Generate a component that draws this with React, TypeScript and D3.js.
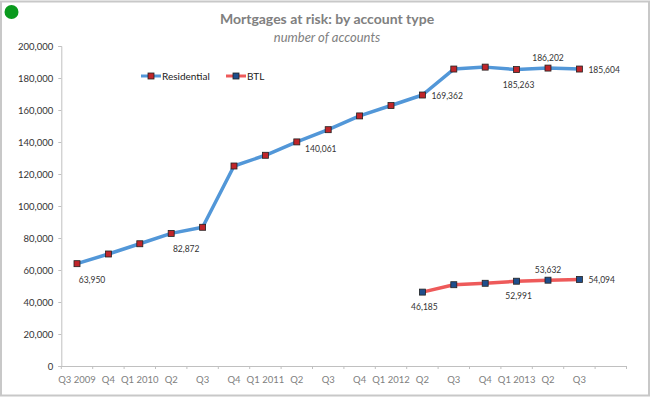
import { useRef, useEffect } from 'react'
import * as d3 from 'd3'

// Quarter labels (last slot is an empty category, as in the original axis)
const quarterLabels = [
  'Q3 2009', 'Q4', 'Q1 2010', 'Q2', 'Q3', 'Q4', 'Q1 2011', 'Q2', 'Q3',
  'Q4', 'Q1 2012', 'Q2', 'Q3', 'Q4', 'Q1 2013', 'Q2', 'Q3', '',
]

const residential: (number | null)[] = [
  63950, 70000, 76400, 82872, 86700, 125000, 131700, 140061, 147700,
  156300, 162800, 169362, 185600, 186800, 185263, 186202, 185604,
]

const btl: (number | null)[] = [
  null, null, null, null, null, null, null, null, null, null, null,
  46185, 50800, 51700, 52991, 53632, 54094,
]

// Which points carry a data label, and where
const residentialLabels: [number, string][] = [
  [0, 'belowRight'], [3, 'belowRight'], [7, 'belowFar'], [11, 'right'],
  [14, 'below'], [15, 'above'], [16, 'right'],
]
const btlLabels: [number, string][] = [
  [11, 'below'], [14, 'below'], [15, 'above'], [16, 'right'],
]

const yTicks = [0, 20000, 40000, 60000, 80000, 100000, 120000, 140000, 160000, 180000, 200000]

const FONT = 'Lato, "Open Sans", sans-serif'
const BLUE = '#5297d8'
const RED = '#ee5a5a'

function App() {
  const svgRef = useRef<SVGSVGElement | null>(null)

  useEffect(() => {
    document.body.style.margin = '0'
    if (!svgRef.current) return
    const svg = d3.select(svgRef.current)
    svg.selectAll('*').remove()

    const width = 650
    const height = 398

    svg.attr('width', width).attr('height', height)

    // Page background and frame
    svg.append('rect')
      .attr('width', width).attr('height', height).attr('fill', '#ffffff')
    svg.append('rect')
      .attr('x', 1).attr('y', 1.5)
      .attr('width', width - 2).attr('height', height - 4)
      .attr('fill', 'none').attr('stroke', '#c8c8c8').attr('stroke-width', 2)

    // green dot
    svg.append('circle')
      .attr('cx', 11.5).attr('cy', 12).attr('r', 7)
      .attr('fill', '#0a9a1e')

    // Titles
    svg.append('text')
      .attr('x', 327).attr('y', 24)
      .attr('text-anchor', 'middle')
      .attr('font-family', FONT).attr('font-weight', 'bold')
      .attr('font-size', '14px').attr('fill', '#808080')
      .text('Mortgages at risk: by account type')
    svg.append('text')
      .attr('x', 327).attr('y', 42)
      .attr('text-anchor', 'middle')
      .attr('font-family', FONT).attr('font-style', 'italic')
      .attr('font-size', '13px').attr('fill', '#808080')
      .text('number of accounts')

    const x = d3.scaleBand<number>()
      .domain(d3.range(quarterLabels.length))
      .range([61.3, 626.5])
      .padding(0)

    const y = d3.scaleLinear()
      .domain([0, 200000])
      .range([366, 46])

    const cx = (i: number) => (x(i) ?? 0) + x.bandwidth() / 2

    // Y axis
    const yAxis = d3.axisLeft(y)
      .tickValues(yTicks)
      .tickSize(3)
      .tickPadding(5)
      .tickFormat(d => d3.format(',')(d as number))

    const yg = svg.append('g')
      .attr('transform', 'translate(61.3,0)')
      .call(yAxis)
    yg.select('.domain').attr('stroke', '#c0c0c0')
    yg.selectAll('line').attr('stroke', '#c0c0c0')
    yg.selectAll('text')
      .attr('font-family', FONT).attr('font-size', '9.5px')
      .attr('fill', '#333333')

    // X axis: labels at band centres, ticks at band edges
    const xAxis = d3.axisBottom(x)
      .tickSize(0)
      .tickPadding(10)
      .tickFormat(i => quarterLabels[i as number])

    const xg = svg.append('g')
      .attr('transform', 'translate(0,366)')
      .call(xAxis)
    xg.select('.domain').attr('stroke', '#c0c0c0')
    xg.selectAll('text')
      .attr('font-family', FONT).attr('font-size', '9.5px')
      .attr('fill', '#808080')

    const edges = d3.range(quarterLabels.length + 1)
      .map(i => i < quarterLabels.length ? (x(i) ?? 0) : x.range()[1])
    xg.selectAll('line.edge')
      .data(edges)
      .join('line')
      .attr('class', 'edge')
      .attr('x1', d => d).attr('x2', d => d)
      .attr('y1', 0).attr('y2', 3)
      .attr('stroke', '#c0c0c0')

    // Series
    const series = [
      { values: residential, line: BLUE, marker: '#c0252a', labels: residentialLabels },
      { values: btl, line: RED, marker: '#1f4e8c', labels: btlLabels },
    ]

    const line = d3.line<number | null>()
      .defined(d => d != null)
      .x((_, i) => cx(i))
      .y(d => y(d as number))

    const offsets: Record<string, [number, number, string]> = {
      belowRight: [15, 19, 'middle'],
      belowFar: [24, 10, 'middle'],
      below: [2, 18, 'middle'],
      above: [0, -7, 'middle'],
      right: [9, 4, 'start'],
    }

    series.forEach(s => {
      svg.append('path')
        .datum(s.values)
        .attr('d', line)
        .attr('fill', 'none')
        .attr('stroke', s.line)
        .attr('stroke-width', 3.5)
        .attr('stroke-linejoin', 'round')

      const pts = s.values
        .map((v, i) => ({ v, i }))
        .filter(d => d.v != null)

      svg.append('g')
        .selectAll('rect')
        .data(pts)
        .join('rect')
        .attr('x', d => cx(d.i) - 3)
        .attr('y', d => y(d.v as number) - 3)
        .attr('width', 6).attr('height', 6)
        .attr('fill', s.marker)
        .attr('stroke', '#222222')
        .attr('stroke-width', 0.8)

      svg.append('g')
        .selectAll('text')
        .data(s.labels)
        .join('text')
        .attr('x', d => cx(d[0]) + offsets[d[1]][0])
        .attr('y', d => y(s.values[d[0]] as number) + offsets[d[1]][1])
        .attr('text-anchor', d => offsets[d[1]][2])
        .attr('font-family', FONT).attr('font-size', '8.5px')
        .attr('fill', '#333333')
        .text(d => d3.format(',')(s.values[d[0]] as number))
    })

    // Legend
    const legendItems = [
      { label: 'Residential', line: BLUE, marker: '#c0252a', x: 141 },
      { label: 'BTL', line: RED, marker: '#1f4e8c', x: 226 },
    ]
    legendItems.forEach(item => {
      const lg = svg.append('g').attr('transform', `translate(${item.x},76)`)
      lg.append('line')
        .attr('x1', 0).attr('x2', 20).attr('y1', 0).attr('y2', 0)
        .attr('stroke', item.line).attr('stroke-width', 3)
      lg.append('rect')
        .attr('x', 7).attr('y', -3).attr('width', 6).attr('height', 6)
        .attr('fill', item.marker).attr('stroke', '#222222').attr('stroke-width', 0.8)
      lg.append('text')
        .attr('x', 21).attr('y', 3.5)
        .attr('font-family', FONT).attr('font-size', '10px')
        .attr('fill', '#222222')
        .text(item.label)
    })
  }, [])

  return <svg ref={svgRef} style={{ display: 'block' }} />
}

export default App
